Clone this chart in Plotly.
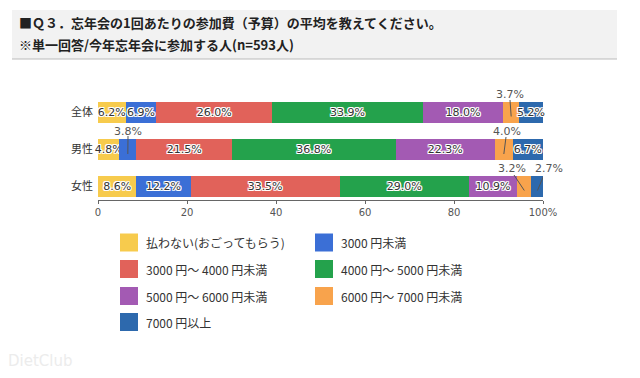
import plotly.graph_objects as go

# ---------------- data ----------------
groups = ["全体", "男性", "女性"]
series_names = ["払わない(おごってもらう)", "3000 円未満", "3000 円～ 4000 円未満",
                "4000 円～ 5000 円未満", "5000 円～ 6000 円未満", "6000 円～ 7000 円未満",
                "7000 円以上"]
v_unpaid = [6.2, 4.8, 8.6]
v_lt3000 = [6.9, 3.8, 12.2]
v_3000_4000 = [26.0, 21.5, 33.5]
v_4000_5000 = [33.9, 36.8, 29.0]
v_5000_6000 = [18.0, 22.3, 10.9]
v_6000_7000 = [3.7, 4.0, 3.2]
v_ge7000 = [5.2, 6.7, 2.7]
x_ticks = [0, 20, 40, 60, 80, 100]
x_tick_labels = ["0", "20", "40", "60", "80", "100%"]
title_line1 = "■Ｑ３．忘年会の1回あたりの参加費（予算）の平均を教えてください。"
title_line2 = "※単一回答/今年忘年会に参加する人(n=593人)"

series_values = [v_unpaid, v_lt3000, v_3000_4000, v_4000_5000, v_5000_6000, v_6000_7000, v_ge7000]
colors = ["#F7CB4D", "#3B6FD6", "#E1625A", "#24A24C", "#A35AB3", "#F8A34C", "#2D69AD"]

# ---------------- layout geometry (pixels) ----------------
W, H = 640, 378
PL, PR, PT, PB = 98, 543, 93, 200
FONT = "Noto Sans CJK JP"
NUMFONT = "DejaVu Sans"
HALO = ("1px 1px 0 #fff, -1px -1px 0 #fff, 1px -1px 0 #fff, -1px 1px 0 #fff, "
        "0 1px 0 #fff, 0 -1px 0 #fff, 1px 0 0 #fff, -1px 0 0 #fff")


def px_x(px):
    return (px - PL) / (PR - PL)


def px_y(py):
    return (PB - py) / (PB - PT)


def px_to_data_x(px):
    return (px - PL) / (PR - PL) * 100.0


fig = go.Figure()
for name, vals, col in zip(series_names, series_values, colors):
    txt = [f"{v:.1f}%" if v >= 4.5 else "" for v in vals]
    fig.add_trace(go.Bar(
        y=groups, x=vals, name=name, orientation="h",
        marker=dict(color=col, line=dict(width=0)),
        text=txt, textposition="inside", insidetextanchor="middle",
        textangle=0, constraintext="none", cliponaxis=False,
        textfont=dict(family=NUMFONT, size=11, color="#333", shadow=HALO),
        width=0.57, showlegend=False, hoverinfo="skip",
    ))

# ---------------- call-out labels for small segments ----------------
# (group index, series index, label centre px, line top px)
callouts = [
    (0, 5, (510, 94), (510, 100)),
    (1, 1, (128, 131), (128, 136)),
    (1, 5, (507, 131), (506, 137)),
    (2, 5, (512, 168), (514, 175)),
    (2, 6, (549, 168), (544, 175)),
]
row_center_px = {0: 112.5, 1: 150.0, 2: 186.5}
shapes = []
annotations = []
for gi, si, (tx, ty), (lx, ly) in callouts:
    start = sum(series_values[k][gi] for k in range(si))
    val = series_values[si][gi]
    cx = start + val / 2
    annotations.append(dict(
        x=px_x(tx), y=px_y(ty), xref="paper", yref="paper", text=f"{val:.1f}%",
        showarrow=False, font=dict(family=NUMFONT, size=11, color="#555"),
        xanchor="center", yanchor="middle"))
    shapes.append(dict(
        type="line", xref="x", yref="paper",
        x0=px_to_data_x(lx), y0=px_y(ly), x1=cx, y1=px_y(row_center_px[gi] + 4),
        line=dict(color="#555", width=1)))

# ---------------- title block ----------------
shapes.append(dict(type="rect", xref="paper", yref="paper",
                   x0=px_x(12), x1=px_x(617), y0=px_y(59), y1=px_y(10),
                   fillcolor="#F2F2F2", line=dict(width=0), layer="below"))
shapes.append(dict(type="line", xref="paper", yref="paper",
                   x0=px_x(12), x1=px_x(617), y0=px_y(59), y1=px_y(59),
                   line=dict(color="#BBBBBB", width=1)))
annotations.append(dict(x=px_x(17), y=px_y(22), xref="paper", yref="paper",
                        text=f"<b>{title_line1}</b>", showarrow=False,
                        xanchor="left", yanchor="middle",
                        font=dict(family=FONT, size=13, color="#222")))
annotations.append(dict(x=px_x(17), y=px_y(45), xref="paper", yref="paper",
                        text=f"<b>{title_line2}</b>", showarrow=False,
                        xanchor="left", yanchor="middle",
                        font=dict(family=FONT, size=13, color="#222")))

# ---------------- legend (2 columns) ----------------
leg_cols_px = [120, 315]
leg_rows_px = [242.5, 269, 296, 322]
for i, (name, col) in enumerate(zip(series_names, colors)):
    cx0 = leg_cols_px[i % 2]
    cy = leg_rows_px[i // 2]
    shapes.append(dict(type="rect", xref="paper", yref="paper",
                       x0=px_x(cx0), x1=px_x(cx0 + 18), y0=px_y(cy + 9), y1=px_y(cy - 9),
                       fillcolor=col, line=dict(width=0)))
    annotations.append(dict(x=px_x(cx0 + 24), y=px_y(cy), xref="paper", yref="paper",
                            text=name, showarrow=False, xanchor="left", yanchor="middle",
                            font=dict(family=FONT, size=12, color="#333")))

# faint watermark
annotations.append(dict(x=px_x(6), y=px_y(361), xref="paper", yref="paper",
                        text="DietClub", showarrow=False, xanchor="left", yanchor="middle",
                        font=dict(family="DejaVu Sans", size=15, color="#ECECEC")))

fig.update_layout(
    barmode="stack",
    width=W, height=H,
    margin=dict(l=PL, r=W - PR, t=PT, b=H - PB, pad=0),
    paper_bgcolor="white", plot_bgcolor="white",
    font=dict(family=FONT, size=11, color="#444"),
    shapes=shapes, annotations=annotations,
    showlegend=False,
    uniformtext=dict(mode=False),
)
fig.update_xaxes(range=[0, 100], tickvals=x_ticks, ticktext=x_tick_labels,
                 showgrid=False, zeroline=False, showline=True, linecolor="#666",
                 linewidth=1, ticks="outside", ticklen=3, tickcolor="#666",
                 tickfont=dict(family=NUMFONT, size=10, color="#555"), fixedrange=True)
fig.update_yaxes(categoryorder="array", categoryarray=groups,
                 range=[2 + 13.5 / 37, -19.5 / 37], showgrid=False, zeroline=False,
                 showline=False, ticks="", ticklabelstandoff=4,
                 tickfont=dict(family=FONT, size=11, color="#333"), fixedrange=True)

fig.write_html("out.html", post_script="document.body.style.margin='0';",
               config={"displayModeBar": False})
